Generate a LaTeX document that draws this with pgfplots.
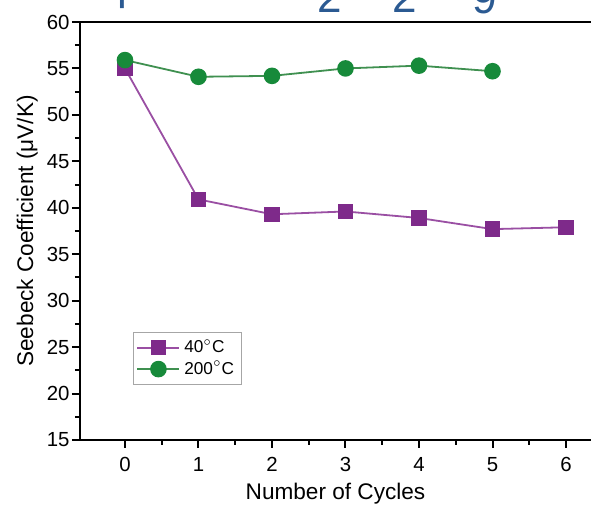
\documentclass[border=0pt]{standalone}
\usepackage{fontspec}
\setmainfont{Liberation Sans}
\usepackage{pgfplots}
\pgfplotsset{compat=1.18}
\definecolor{purp}{HTML}{7E2A8A}
\definecolor{purpline}{HTML}{9A4FA3}
\definecolor{grn}{HTML}{178A3A}
\definecolor{grnline}{HTML}{3F9050}
\definecolor{ttl}{HTML}{2B5A92}

\begin{document}
\begin{tikzpicture}
\begin{axis}[
  name=ax,
  scale only axis,
  width=255.5pt, height=209pt,
  xmin=-0.612, xmax=6.34,
  ymin=15, ymax=60,
  axis lines=left,
  axis line style={line width=1.2pt,-},
  xtick={0,...,6},
  minor x tick num=1,
  ytick={15,20,...,60},
  minor y tick num=1,
  tick align=outside,
  major tick length=4pt,
  minor tick length=2.5pt,
  tick style={line width=1pt,black},
  /pgf/number format/assume math mode=true,
  ticklabel style={font=\fontsize{10.2}{12}\selectfont},
  yticklabel style={inner sep=1pt},
  xticklabel style={yshift=-1pt},
  xlabel={Number of Cycles},
  ylabel={Seebeck Coefficient (μV/K)},
  label style={font=\fontsize{11.3}{13}\selectfont},
  xlabel style={yshift=1pt},
  ylabel style={yshift=0pt},
  clip=false,
  legend style={at={(rel axis cs:0.104,0.258)}, anchor=north west,
    draw=gray!70, font=\fontsize{8.6}{10}\selectfont,
    row sep=-1.5pt, inner sep=1.5pt},
  legend cell align=left,
  legend image code/.code={\draw[mark repeat=2,mark phase=2,#1]
    plot coordinates {(0pt,0pt) (10.5pt,0pt) (21pt,0pt)};},
]
\addplot[color=purpline, line width=0.9pt, mark=square*,
  mark options={fill=purp, draw=purp}, mark size=3.4pt]
coordinates {(0,55.0) (1,40.9) (2,39.3) (3,39.6) (4,38.9) (5,37.7) (6,37.9)};
\addlegendentry{40$^\circ$C}
\addplot[color=grnline, line width=0.9pt, mark=*,
  mark options={fill=grn, draw=grn}, mark size=3.7pt]
coordinates {(0,55.9) (1,54.1) (2,54.2) (3,55.0) (4,55.3) (5,54.7)};
\addlegendentry{200$^\circ$C}
\draw[line width=1.2pt] (rel axis cs:0,1) -- (rel axis cs:1,1);
\node[anchor=base, text=ttl, font=\fontsize{22}{24}\selectfont] at (axis cs:0.06,62.4) {p};
\node[anchor=base, text=ttl, font=\fontsize{22}{24}\selectfont] at (axis cs:2.79,60.97) {2};
\node[anchor=base, text=ttl, font=\fontsize{22}{24}\selectfont] at (axis cs:3.81,60.97) {2};
\node[anchor=base, text=ttl, font=\fontsize{22}{24}\selectfont] at (axis cs:4.90,60.9) {9};
\end{axis}
\pgfresetboundingbox
\path[use as bounding box] ([xshift=-40pt,yshift=-34.5pt]ax.south west) rectangle ([yshift=11pt]ax.north east);
\end{tikzpicture}
\end{document}
